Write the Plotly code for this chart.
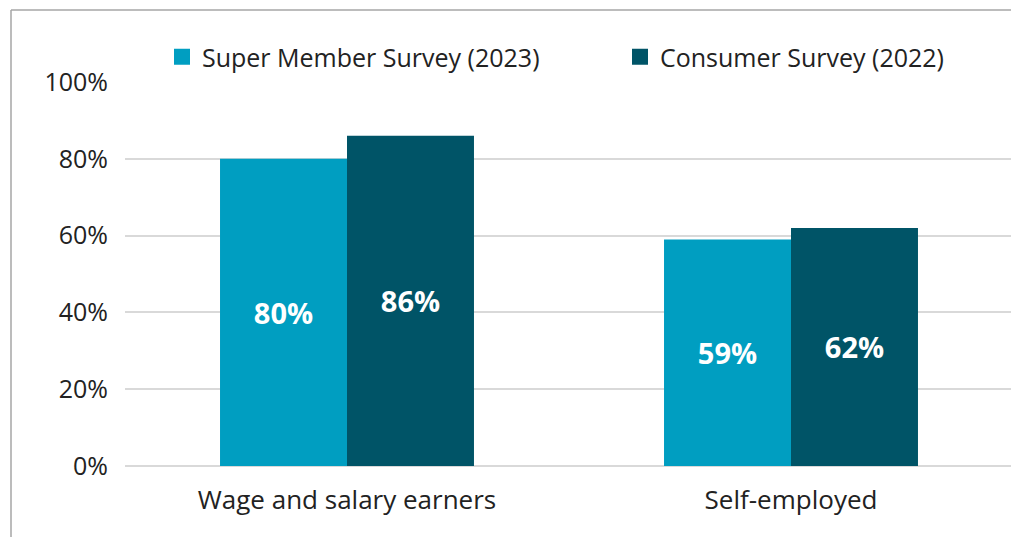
import plotly.graph_objects as go

categories = ["Wage and salary earners", "Self-employed"]
series_names = ["Super Member Survey (2023)", "Consumer Survey (2022)"]
super_member = [80, 59]
consumer = [86, 62]
label_super = ["80%", "59%"]
label_consumer = ["86%", "62%"]
tick_vals = [0, 20, 40, 60, 80, 100]
tick_text = ["0%", "20%", "40%", "60%", "80%", "100%"]

colors = ["#009EC1", "#005467"]
FONT = "Open Sans"

# page body has an 8px margin; figure is sized/offset to compensate
OFF = 8
W, H = 1019 - OFF, 537 - OFF
L, R, T, B = 125 - OFF, 6, 82 - OFF, 71
pw, ph = W - L - R, H - T - B


def px_x(p):
    return (p - OFF - L) / pw


def px_y(p):
    return (H - B - (p - OFF)) / ph


fig = go.Figure()
for name, vals, labels, col in [
    (series_names[0], super_member, label_super, colors[0]),
    (series_names[1], consumer, label_consumer, colors[1]),
]:
    fig.add_trace(go.Bar(
        x=categories, y=vals, name=name, marker_color=col,
        marker_line_width=0, showlegend=False,
        text=labels, textposition="inside", insidetextanchor="middle",
        textfont=dict(family=FONT, size=29, color="white", weight="bold"),
        textangle=0, cliponaxis=False,
    ))

# legend entries (square markers), one legend per entry for exact placement
legend_ids = ["legend", "legend2"]
legend_x_px = [162, 620]
for name, col, lid in zip(series_names, colors, legend_ids):
    fig.add_trace(go.Scatter(
        x=[None], y=[None], mode="markers", name=name,
        marker=dict(symbol="square", size=16, color=col),
        showlegend=True, legend=lid,
    ))

legend_common = dict(
    orientation="h", xanchor="left", y=px_y(57), yanchor="middle",
    font=dict(family=FONT, size=25, color="#222222"),
    itemsizing="trace", itemwidth=30, bgcolor="rgba(0,0,0,0)",
)

fig.update_layout(
    width=W, height=H,
    margin=dict(l=L, r=R, t=T, b=B),
    paper_bgcolor="white", plot_bgcolor="white",
    barmode="group", bargap=0.428, bargroupgap=0,
    font=dict(family=FONT, color="#222222"),
    uniformtext=dict(mode=False),
    legend=dict(x=px_x(legend_x_px[0]), **legend_common),
    legend2=dict(x=px_x(legend_x_px[1]), **legend_common),
    xaxis=dict(
        showline=False, ticks="", showgrid=False,
        tickfont=dict(family=FONT, size=26, color="#222222"),
        ticklabelstandoff=16,
    ),
    yaxis=dict(
        range=[0, 100], tickvals=tick_vals, ticktext=tick_text,
        showgrid=True, gridcolor="#D9D9D9", gridwidth=1.5,
        zeroline=True, zerolinecolor="#D9D9D9", zerolinewidth=1.5,
        tickfont=dict(family=FONT, size=25, color="#222222"),
        ticklabelstandoff=16, showline=False, ticks="",
    ),
    shapes=[
        dict(type="line", xref="paper", yref="paper",
             x0=px_x(11), x1=px_x(1030), y0=px_y(10), y1=px_y(10),
             line=dict(color="#A6A6A6", width=1.5)),
        dict(type="line", xref="paper", yref="paper",
             x0=px_x(11), x1=px_x(11), y0=px_y(10), y1=px_y(545),
             line=dict(color="#A6A6A6", width=1.5)),
    ],
)

fig.write_html("out.html")
